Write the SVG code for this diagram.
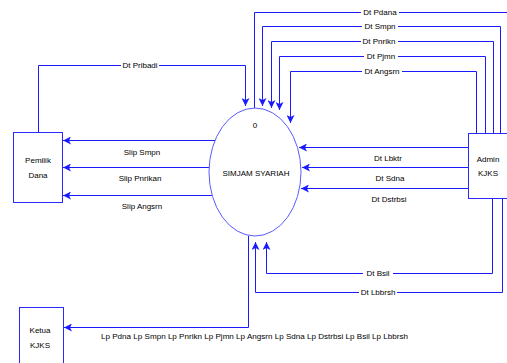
<svg xmlns="http://www.w3.org/2000/svg" width="507" height="363" viewBox="0 0 507 363">
<defs>
<marker id="ah" markerUnits="userSpaceOnUse" markerWidth="9" markerHeight="8" refX="8" refY="4" orient="auto">
<path d="M0,0 L8,4 L0,8 L2,4 z" fill="#1a1aff"/>
</marker>
<style>
.box{fill:#fff;stroke:#2a2aff;stroke-width:1}
.proc{fill:#fff;stroke:#5a5aff;stroke-width:1}
.t{font-family:"Liberation Sans",Arial,sans-serif;font-size:8px;fill:#000;text-anchor:middle}
.tl{font-family:"Liberation Sans",Arial,sans-serif;font-size:8px;fill:#000}
.ln{fill:none;stroke:#1a1aff;stroke-width:1}
.arr{marker-end:url(#ah)}
.bg{fill:#fff}
</style>
</defs>
<rect width="507" height="363" fill="#fff"/>

<g id="connectors">
<path class="ln" d="M509.5,133 V12.5 H254.5 V108"/>
<path class="ln arr" d="M500.5,133 V26.5 H262.5 V106"/>
<path class="ln arr" d="M493.5,133 V41.5 H271.5 V108"/>
<path class="ln arr" d="M485.5,133 V56.5 H279.5 V110"/>
<path class="ln arr" d="M476.5,133 V71.5 H290.5 V123"/>
<path class="ln arr" d="M38.5,132 V65.5 H245.5 V106"/>
<path class="ln arr" d="M216,140.5 H63"/>
<path class="ln arr" d="M209,167.5 H63"/>
<path class="ln arr" d="M212,195.5 H63"/>
<path class="ln arr" d="M468,147.5 H299"/>
<path class="ln arr" d="M468,167.5 H302"/>
<path class="ln arr" d="M468,188.5 H301"/>
<path class="ln arr" d="M492.5,198 V273.5 H266.5 V242"/>
<path class="ln arr" d="M502.5,198 V292.5 H255.5 V242"/>
<path class="ln arr" d="M248.5,236 V327.5 H64"/>

<rect class="bg" x="361" y="8" width="38" height="9"/>
<text class="t" x="380" y="15">Dt Pdana</text>
<rect class="bg" x="362" y="22" width="36" height="9"/>
<text class="t" x="380" y="29">Dt Smpn</text>
<rect class="bg" x="361" y="37" width="37" height="9"/>
<text class="t" x="379" y="44">Dt Pnrikn</text>
<rect class="bg" x="364" y="52" width="34" height="9"/>
<text class="t" x="381" y="59">Dt Pjmn</text>
<rect class="bg" x="362" y="67" width="40" height="9"/>
<text class="t" x="382" y="74">Dt Angsrn</text>
<rect class="bg" x="121" y="61" width="38" height="9"/>
<text class="t" x="140" y="68">Dt Pribadi</text>
<text class="t" x="142" y="155">Slip Smpn</text>
<text class="t" x="140" y="181">Slip Pnrikan</text>
<text class="t" x="142" y="209">Slip Angsrn</text>
<text class="t" x="388" y="161">Dt Lbktr</text>
<text class="t" x="390" y="181">Dt Sdna</text>
<text class="t" x="389" y="202">Dt Dstrbsi</text>
<rect class="bg" x="363" y="269" width="30" height="9"/>
<text class="t" x="378" y="276">Dt Bsil</text>
<rect class="bg" x="359" y="288" width="38" height="9"/>
<text class="t" x="378" y="295">Dt Lbbrsh</text>
<text class="tl" x="101" y="339" textLength="307" lengthAdjust="spacingAndGlyphs">Lp Pdna Lp Smpn Lp Pnrikn Lp Pjmn Lp Angsrn Lp Sdna Lp Dstrbsi Lp Bsil Lp Lbbrsh</text>
</g>

<g id="process">
<ellipse class="proc" cx="255" cy="172" rx="46" ry="64"/>
<text class="t" x="255" y="128">0</text>
<text class="t" x="256" y="176">SIMJAM SYARIAH</text>
</g>

<g id="pemilik-dana">
<rect class="box" x="13.5" y="132.5" width="49" height="70"/>
<text class="t" x="38" y="163">Pemilik</text>
<text class="t" x="38" y="178">Dana</text>
</g>

<g id="admin-kjks">
<rect class="box" x="468.5" y="133.5" width="45" height="65"/>
<text class="t" x="488" y="162">Admin</text>
<text class="t" x="488" y="176">KJKS</text>
</g>

<g id="ketua-kjks">
<rect class="box" x="19.5" y="307.5" width="44" height="62"/>
<text class="t" x="40" y="333">Ketua</text>
<text class="t" x="40" y="348">KJKS</text>
</g>
</svg>
